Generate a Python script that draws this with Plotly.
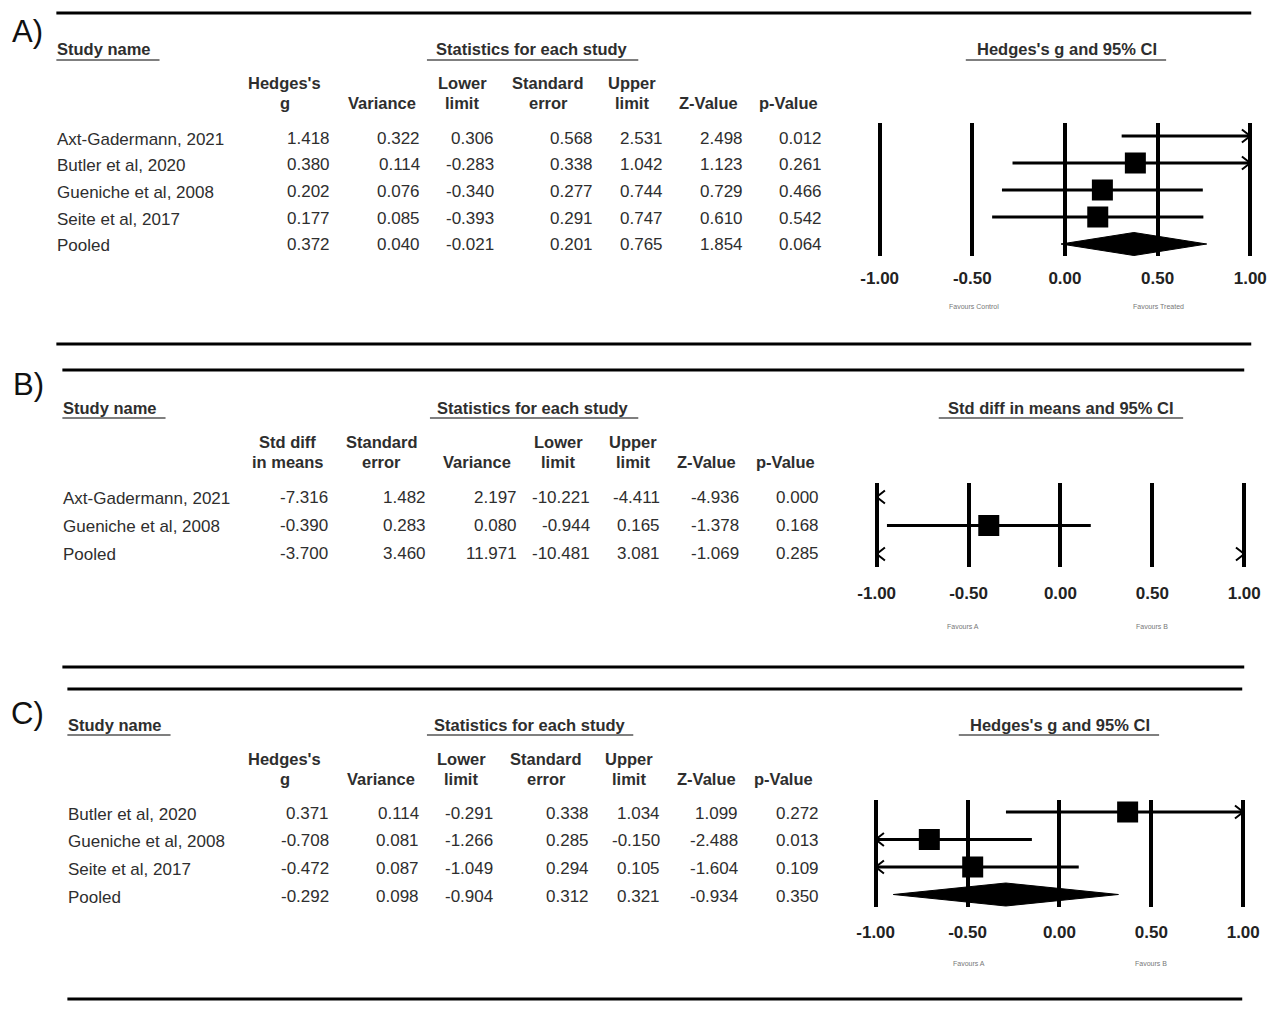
import plotly.graph_objects as go

# ---------------- data ----------------
tick_vals = [-1.0, -0.5, 0.0, 0.5, 1.0]
tick_text = ["-1.00", "-0.50", "0.00", "0.50", "1.00"]

A_names = ["Axt-Gadermann, 2021", "Butler et al, 2020", "Gueniche et al, 2008", "Seite et al, 2017", "Pooled"]
A_g = [1.418, 0.380, 0.202, 0.177, 0.372]
A_var = [0.322, 0.114, 0.076, 0.085, 0.040]
A_lower = [0.306, -0.283, -0.340, -0.393, -0.021]
A_se = [0.568, 0.338, 0.277, 0.291, 0.201]
A_upper = [2.531, 1.042, 0.744, 0.747, 0.765]
A_z = [2.498, 1.123, 0.729, 0.610, 1.854]
A_p = [0.012, 0.261, 0.466, 0.542, 0.064]

B_names = ["Axt-Gadermann, 2021", "Gueniche et al, 2008", "Pooled"]
B_smd = [-7.316, -0.390, -3.700]
B_se = [1.482, 0.283, 3.460]
B_var = [2.197, 0.080, 11.971]
B_lower = [-10.221, -0.944, -10.481]
B_upper = [-4.411, 0.165, 3.081]
B_z = [-4.936, -1.378, -1.069]
B_p = [0.000, 0.168, 0.285]

C_names = ["Butler et al, 2020", "Gueniche et al, 2008", "Seite et al, 2017", "Pooled"]
C_g = [0.371, -0.708, -0.472, -0.292]
C_var = [0.114, 0.081, 0.087, 0.098]
C_lower = [-0.291, -1.266, -1.049, -0.904]
C_se = [0.338, 0.285, 0.294, 0.312]
C_upper = [1.034, -0.150, 0.105, 0.321]
C_z = [1.099, -2.488, -1.604, -0.934]
C_p = [0.272, 0.013, 0.109, 0.350]

# ---------------- layout helpers ----------------
W, H = 1280, 1012
# observed page placement of the figure (offset / rendered width)
OX, OY, RW = 16.7, 8.0, 1265.0
FONT = "Liberation Sans, Arial, sans-serif"
TXT = "#2e2e2e"


def px(x):
    return (x - OX) / RW


def py(y):
    return 1 - (y - OY) / H


annotations = []
shapes = []


def text(x, y, s, size=17, bold=False, anchor="left", color=TXT, family=FONT):
    # compensate annotation box padding
    if anchor == "right":
        x += 3
    elif anchor == "left":
        x -= 1.5
    annotations.append(dict(
        x=px(x), y=py(y), xref="paper", yref="paper",
        text=f"<b>{s}</b>" if bold else s, showarrow=False,
        xanchor=anchor, yanchor="middle",
        font=dict(family=family, size=size, color=color)))


def hline(x0, x1, y, width=3, color="black"):
    shapes.append(dict(type="line", xref="paper", yref="paper",
                       x0=px(x0), x1=px(x1), y0=py(y), y1=py(y),
                       line=dict(color=color, width=width)))


panels = [
    dict(letter="A)", letter_xy=(28, 32), rule_x=(57, 1250), rule_y=(13, 344),
         name_x=57, title_y=49, ul_y=60, name_ul=(57, 160),
         stats_c=532, stats_ul=(427, 638),
         ci_title="Hedges's g and 95% CI", ci_c=1066, ci_ul=(965, 1165),
         head_y=(83, 103),
         headers=[(["Hedges's", "g"], 285), (["Variance"], 382), (["Lower", "limit"], 462),
                  (["Standard", "error"], 548), (["Upper", "limit"], 632),
                  (["Z-Value"], 708), (["p-Value"], 788)],
         val_right=[329, 419, 493, 592, 662, 742, 820],
         row0=138, drow=26.7,
         names=A_names, cols=[A_g, A_var, A_lower, A_se, A_upper, A_z, A_p],
         est=A_g, lo=A_lower, hi=A_upper,
         fx=(879, 1249), fy=(123, 256), frow0=136, fdrow=27, ticklen=7,
         fav=[("Favours Control", 973), ("Favours Treated", 1157)], fav_y=307),
    dict(letter="B)", letter_xy=(29, 385), rule_x=(63, 1243), rule_y=(370, 667),
         name_x=63, title_y=408, ul_y=418, name_ul=(63, 166),
         stats_c=533, stats_ul=(430, 638),
         ci_title="Std diff in means and 95% CI", ci_c=1060, ci_ul=(938, 1182),
         head_y=(442, 462),
         headers=[(["Std diff", "in means"], 288), (["Standard", "error"], 382),
                  (["Variance"], 477), (["Lower", "limit"], 558), (["Upper", "limit"], 633),
                  (["Z-Value"], 706), (["p-Value"], 785)],
         val_right=[327, 425, 516, 589, 659, 738, 817],
         row0=497, drow=28.3,
         names=B_names, cols=[B_smd, B_se, B_var, B_lower, B_upper, B_z, B_p],
         est=B_smd, lo=B_lower, hi=B_upper,
         fx=(876, 1243), fy=(483, 567), frow0=497, fdrow=28.5, ticklen=11,
         fav=[("Favours A", 962), ("Favours B", 1151)], fav_y=626),
    dict(letter="C)", letter_xy=(28, 713), rule_x=(68, 1241), rule_y=(689, 999),
         name_x=68, title_y=725, ul_y=735, name_ul=(68, 171),
         stats_c=530, stats_ul=(427, 633),
         ci_title="Hedges's g and 95% CI", ci_c=1059, ci_ul=(958, 1158),
         head_y=(759, 779),
         headers=[(["Hedges's", "g"], 285), (["Variance"], 381), (["Lower", "limit"], 461),
                  (["Standard", "error"], 546), (["Upper", "limit"], 629),
                  (["Z-Value"], 706), (["p-Value"], 783)],
         val_right=[328, 418, 492, 588, 659, 737, 817],
         row0=813.3, drow=27.6,
         names=C_names, cols=[C_g, C_var, C_lower, C_se, C_upper, C_z, C_p],
         est=C_g, lo=C_lower, hi=C_upper,
         fx=(875, 1242), fy=(800, 907), frow0=812, fdrow=27.5, ticklen=10,
         fav=[("Favours A", 968), ("Favours B", 1150)], fav_y=963),
]

fig = go.Figure()
PAD = 0.06
layout_axes = {}

for k, P in enumerate(panels):
    sfx = "" if k == 0 else str(k + 1)
    xname, yname = "x" + sfx, "y" + sfx

    # ----- table text -----
    text(P["letter_xy"][0], P["letter_xy"][1], P["letter"], size=31, anchor="center", color="#111")
    hline(P["rule_x"][0], P["rule_x"][1], P["rule_y"][0], width=3)
    hline(P["rule_x"][0], P["rule_x"][1], P["rule_y"][1], width=3)

    text(P["name_x"], P["title_y"], "Study name", size=16.5, bold=True)
    hline(P["name_ul"][0], P["name_ul"][1], P["ul_y"], width=1.5, color="#555")
    text(P["stats_c"], P["title_y"], "Statistics for each study", size=16.5, bold=True, anchor="center")
    hline(P["stats_ul"][0], P["stats_ul"][1], P["ul_y"], width=1.5, color="#555")
    text(P["ci_c"], P["title_y"], P["ci_title"], size=16.5, bold=True, anchor="center")
    hline(P["ci_ul"][0], P["ci_ul"][1], P["ul_y"], width=1.5, color="#555")

    for lines, cx in P["headers"]:
        if len(lines) == 2:
            text(cx, P["head_y"][0], lines[0], size=16.5, bold=True, anchor="center")
            text(cx, P["head_y"][1], lines[1], size=16.5, bold=True, anchor="center")
        else:
            text(cx, P["head_y"][1], lines[0], size=16.5, bold=True, anchor="center")

    for i, name in enumerate(P["names"]):
        ry = P["row0"] + i * P["drow"]
        text(P["name_x"], ry + 1, name, size=17)
        for col, xr in zip(P["cols"], P["val_right"]):
            text(xr, ry, f"{col[i]:.3f}", size=17, anchor="right")

    for s, cx in P["fav"]:
        text(cx, P["fav_y"], s, size=7, anchor="center", color="#777")

    # ----- forest plot -----
    x1, x2 = P["fx"]
    c, s = (x1 + x2) / 2, (x2 - x1) / 2
    T, B = P["fy"]
    r0, dr = P["frow0"], P["fdrow"]
    layout_axes["xaxis" + sfx] = dict(
        domain=[px(c - (1 + PAD) * s), px(c + (1 + PAD) * s)], range=[-1 - PAD, 1 + PAD],
        anchor=yname, tickvals=tick_vals, ticktext=[f"<b>{t}</b>" for t in tick_text],
        showgrid=True, gridcolor="black", gridwidth=3.5, zeroline=False, showline=False,
        ticks="outside", ticklen=P["ticklen"], tickcolor="rgba(0,0,0,0)",
        tickfont=dict(family=FONT, size=17, color="#222"), fixedrange=True)
    layout_axes["yaxis" + sfx] = dict(
        domain=[py(B), py(T)], range=[(B - r0) / dr, (T - r0) / dr], anchor=xname,
        showgrid=False, zeroline=False, showticklabels=False, showline=False, ticks="",
        fixedrange=True)

    dx = 0.045
    dy = 6.5 / dr
    h = 11.5 / dr
    lx, ly, ax, ay, sx, sy, dxs, dys = [], [], [], [], [], [], [], []
    for i, (e, lo, hi) in enumerate(zip(P["est"], P["lo"], P["hi"])):
        pooled = P["names"][i] == "Pooled"
        if lo < -1:
            ax += [-1 + dx, -1, -1 + dx, None]
            ay += [i - dy, i, i + dy, None]
        if hi > 1:
            ax += [1 - dx, 1, 1 - dx, None]
            ay += [i - dy, i, i + dy, None]
        inside = -1 <= e <= 1
        if pooled:
            if inside:
                dxs += [lo, e, hi, e, lo, None]
                dys += [i, i - h, i, i + h, i, None]
        else:
            cl, cu = max(lo, -1), min(hi, 1)
            if cu > cl:
                lx += [cl, cu, None]
                ly += [i, i, None]
            if inside:
                sx.append(e)
                sy.append(i)

    common = dict(xaxis=xname, yaxis=yname, showlegend=False, hoverinfo="skip")
    fig.add_trace(go.Scatter(x=lx, y=ly, mode="lines", line=dict(color="black", width=3), **common))
    fig.add_trace(go.Scatter(x=ax, y=ay, mode="lines", line=dict(color="black", width=2), **common))
    if dxs:
        fig.add_trace(go.Scatter(x=dxs, y=dys, mode="lines", fill="toself", fillcolor="black",
                                 line=dict(color="black", width=1), **common))
    fig.add_trace(go.Scatter(x=sx, y=sy, mode="markers",
                             marker=dict(symbol="square", size=21, color="black",
                                         line=dict(width=0)), **common))

fig.update_layout(
    width=W, height=H, margin=dict(l=0, r=0, t=0, b=0),
    paper_bgcolor="white", plot_bgcolor="white",
    annotations=annotations, shapes=shapes, showlegend=False,
    **layout_axes)

fig.write_html("out.html")
